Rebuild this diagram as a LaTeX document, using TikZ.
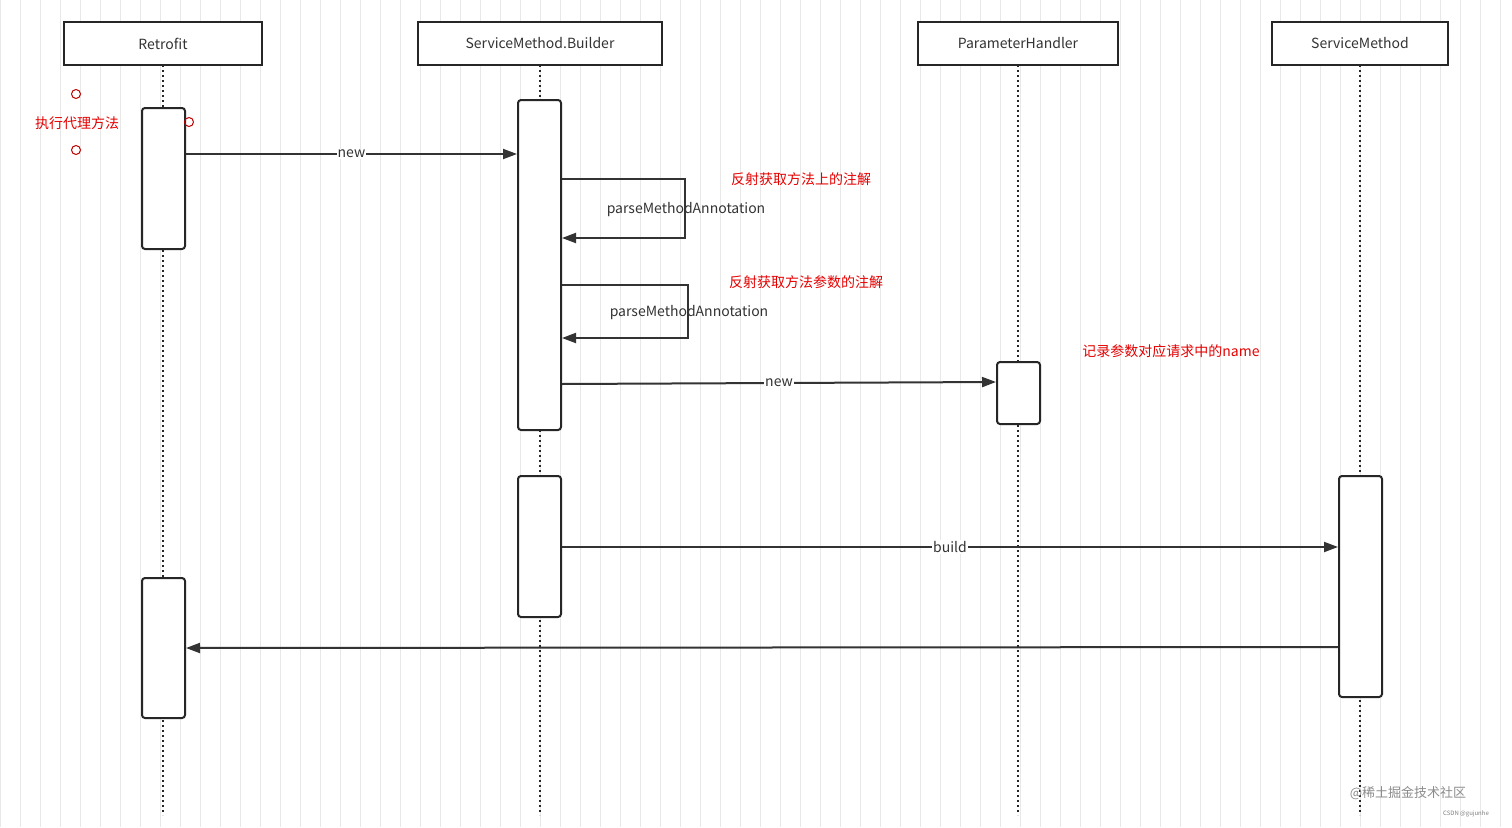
\documentclass[tikz,border=0pt]{standalone}
\usepackage{fontspec}
\setmainfont{Noto Sans CJK SC}
\usetikzlibrary{arrows.meta}
\begin{document}
\begin{tikzpicture}[x=1pt,y=-1pt,
  hdr/.style={draw=black!85,line width=2pt,fill=white,inner sep=0pt,font=\fontsize{14}{16}\selectfont,text=black!80},
  act/.style={draw=black!85,line width=2pt,fill=white,rounded corners=3pt,inner sep=0pt},
  life/.style={black!85,line width=1.6pt,dash pattern=on 2pt off 3pt},
  msg/.style={black!80,line width=2pt,-{Triangle[length=14pt,width=10pt]}},
  lbl/.style={fill=white,inner sep=1pt,font=\fontsize{14}{16}\selectfont,text=black!80},
  red/.style={text=red!90!black,font=\fontsize{14}{16}\selectfont},
  dot/.style={draw=red!75!black,line width=1pt,circle,minimum size=9pt,inner sep=0pt}]
\useasboundingbox (0,0) rectangle (1512,827);
\fill[white] (0,0) rectangle (1512,827);
\draw[black!9,line width=0.8pt,step=20] (0,0) grid (1512,827);
% lifelines
\foreach \n/\x in {l1/163,l2/540,l3/1018,l4/1360}{
  \coordinate (\n t) at (\x,65); \coordinate (\n b) at (\x,815);
  \draw[life] (\n t) -- (\n b);}
% headers
\node[hdr,minimum width=198pt,minimum height=43pt] (h1) at (163,43.5) {Retrofit};
\node[hdr,minimum width=244pt,minimum height=43pt] (h2) at (540,43.5) {ServiceMethod.Builder};
\node[hdr,minimum width=200pt,minimum height=43pt] (h3) at (1018,43.5) {ParameterHandler};
\node[hdr,minimum width=176pt,minimum height=43pt] (h4) at (1360,43.5) {ServiceMethod};
% activations
\node[act,minimum width=43pt,minimum height=141pt] (a1) at (163.5,178.5) {};
\node[act,minimum width=43pt,minimum height=140pt] (a2) at (163.5,648) {};
\node[act,minimum width=43pt,minimum height=330pt] (b1) at (539.5,265) {};
\node[act,minimum width=43pt,minimum height=141pt] (b2) at (539.5,546.5) {};
\node[act,minimum width=43pt,minimum height=62pt] (p1) at (1018.5,393) {};
\node[act,minimum width=43pt,minimum height=221pt] (s1) at (1360.5,586.5) {};
% messages
\draw[msg] (a1.east|-0,154) -- node[lbl]{new} (b1.west|-0,154);
\draw[msg] (b1.east|-0,179) -- (685,179) -- (685,238) -- (b1.east|-0,238);
\node[lbl,fill=none] (m1) at (686,210) {parseMethodAnnotation};
\draw[msg] (b1.east|-0,285) -- (688,285) -- (688,338) -- (b1.east|-0,338);
\node[lbl,fill=none] (m2) at (689,313) {parseMethodAnnotation};
\draw[msg] (b1.east|-0,384) -- node[lbl,pos=0.5]{new} (p1.west|-0,382);
\draw[msg] (b2.east|-0,547) -- node[lbl]{build} (s1.west|-0,547);
\draw[msg] (s1.west|-0,647) -- (a2.east|-0,648);
% red notes
\node[red] (n0) at (77,123) {执行代理方法};
\node[dot] (c1) at (76,94) {};
\node[dot] (c2) at (76,150) {};
\node[dot] (c3) at (189,122) {};
\node[red] (n1) at (801,179) {反射获取方法上的注解};
\node[red] (n2) at (806,282) {反射获取方法参数的注解};
\node[red] (n3) at (1171,351) {记录参数对应请求中的name};
% watermark
\node[text=black!45,font=\fontsize{13}{15}\selectfont] (w1) at (1408,793) {@稀土掘金技术社区};
\node[text=black!50,font=\fontsize{6}{7}\selectfont] (w2) at (1466,814) {CSDN @gujunhe};
\end{tikzpicture}
\end{document}
